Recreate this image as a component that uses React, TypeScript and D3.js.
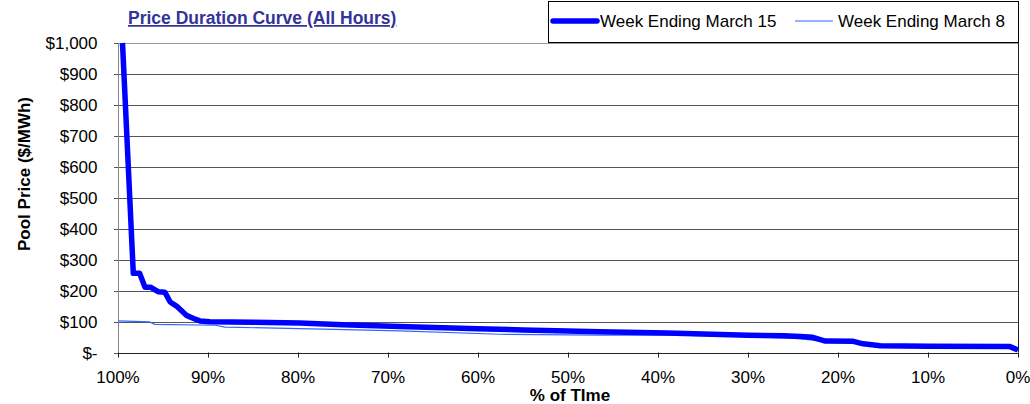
import * as d3 from 'd3';

// % of time (x) and pool price $/MWh (y)
const mar15Pct = [99.5, 98.3, 97.6, 97.0, 96.4, 95.5, 94.8, 94.2, 93.5, 92.4, 91.6, 90.9, 89.8, 85, 79.8, 75, 68.7, 60, 55, 46.4, 39, 30, 26, 24.2, 22.8, 21.4, 18.3, 17.2, 15.3, 10, 0.9, 0];
const mar15Price = [1000, 256, 256, 211, 211, 196, 195, 163, 150, 120, 110, 102, 99, 98, 95, 90, 84, 77, 73, 67, 63, 56, 54, 52, 49, 37, 36, 28, 22, 20, 19, 8];

const mar8Pct = [100, 96.5, 95.9, 89.2, 88.1, 79.8, 68.7, 57.6, 46.4, 39, 30, 24.2, 22, 18.7, 17, 15.3, 0.7, 0];
const mar8Price = [102, 99, 91, 88, 82, 77, 70, 59, 56, 57, 51, 45, 37, 33, 27, 22, 18, 11];

const yTicks = [0, 100, 200, 300, 400, 500, 600, 700, 800, 900, 1000];
const xTicks = [100, 90, 80, 70, 60, 50, 40, 30, 20, 10, 0];

const seriesNames = ['Week Ending March 15', 'Week Ending March 8'];
const title = 'Price Duration Curve (All Hours)';
const yTitle = 'Pool Price ($/MWh)';
const xTitle = '% of TIme';

const W = 1030;
const H = 404;
const plot = { left: 118, right: 1018, top: 43, bottom: 352.5 };
const font = '"Liberation Sans", Arial, sans-serif';

export default function App() {
  const x = d3.scaleLinear().domain([100, 0]).range([plot.left, plot.right]);
  const y = d3.scaleLinear().domain([0, 1000]).range([plot.bottom, plot.top]);

  const mk = (pct: number[], price: number[]) =>
    d3.line<number>()
      .x(i => x(pct[i]))
      .y(i => y(price[i]))(d3.range(pct.length)) || '';

  const yLabel = (v: number) => (v === 0 ? '$-' : '$' + d3.format(',')(v));

  return (
    <svg width={W} height={H} style={{ position: 'absolute', left: 0, top: 0, background: '#fff' }} fontFamily={font}>
      <defs>
        <clipPath id="plotClip">
          <rect x={plot.left} y={plot.top - 2} width={plot.right - plot.left + 3} height={plot.bottom - plot.top + 2} />
        </clipPath>
      </defs>

      {/* gridlines */}
      {yTicks.filter(t => t > 0).map(t => (
        <line key={t} x1={plot.left} x2={plot.right} y1={Math.round(y(t)) + 0.5} y2={Math.round(y(t)) + 0.5}
          stroke={t === 1000 ? '#999' : '#555'} strokeWidth={1} />
      ))}

      {/* frame */}
      <line x1={plot.left + 0.5} x2={plot.left + 0.5} y1={plot.top} y2={plot.bottom} stroke="#888" />
      <line x1={plot.right + 0.5} x2={plot.right + 0.5} y1={plot.top} y2={plot.bottom} stroke="#222" />
      <line x1={plot.left} x2={plot.right + 1} y1={Math.round(plot.bottom) + 0.5} y2={Math.round(plot.bottom) + 0.5} stroke="#222" />

      {/* y ticks & labels */}
      {yTicks.map(t => (
        <g key={t}>
          <line x1={plot.left - 4} x2={plot.left} y1={Math.round(y(t)) + 0.5} y2={Math.round(y(t)) + 0.5} stroke="#555" />
          <text x={97.5} y={y(t)} dy="0.36em" textAnchor="end" fontSize={17} fill="#000">{yLabel(t)}</text>
        </g>
      ))}

      {/* x ticks & labels */}
      {xTicks.map(t => (
        <g key={t}>
          <line x1={Math.round(x(t)) + 0.5} x2={Math.round(x(t)) + 0.5} y1={plot.bottom} y2={plot.bottom + 5} stroke="#222" />
          <text x={x(t)} y={383} textAnchor="middle" fontSize={17} fill="#000">{t + '%'}</text>
        </g>
      ))}

      {/* series */}
      <g clipPath="url(#plotClip)">
        <path d={mk(mar8Pct, mar8Price)} fill="none" stroke="#3366ff" strokeWidth={1.2} />
        <path d={mk(mar15Pct, mar15Price)} fill="none" stroke="#0000ff" strokeWidth={5.5} strokeLinejoin="round" />
      </g>

      {/* axis titles */}
      <text x={570} y={401} textAnchor="middle" fontSize={17} fontWeight="bold" fill="#000">{xTitle}</text>
      <text transform={`translate(30,174) rotate(-90)`} textAnchor="middle" fontSize={17} fontWeight="bold" fill="#000">{yTitle}</text>

      {/* title */}
      <text x={128} y={24} fontSize={17.5} fontWeight="bold" fill="#333399" textDecoration="underline">{title}</text>

      {/* legend */}
      <rect x={548.5} y={1.5} width={470} height={41} fill="#fff" stroke="#000" />
      <line x1={553} x2={597} y1={21} y2={21} stroke="#0000ff" strokeWidth={5.5} strokeLinecap="round" />
      <text x={600} y={27} fontSize={17} fill="#000">{seriesNames[0]}</text>
      <line x1={795} x2={833} y1={21} y2={21} stroke="#3366ff" strokeWidth={1.2} />
      <text x={838} y={27} fontSize={17} fill="#000">{seriesNames[1]}</text>
    </svg>
  );
}
